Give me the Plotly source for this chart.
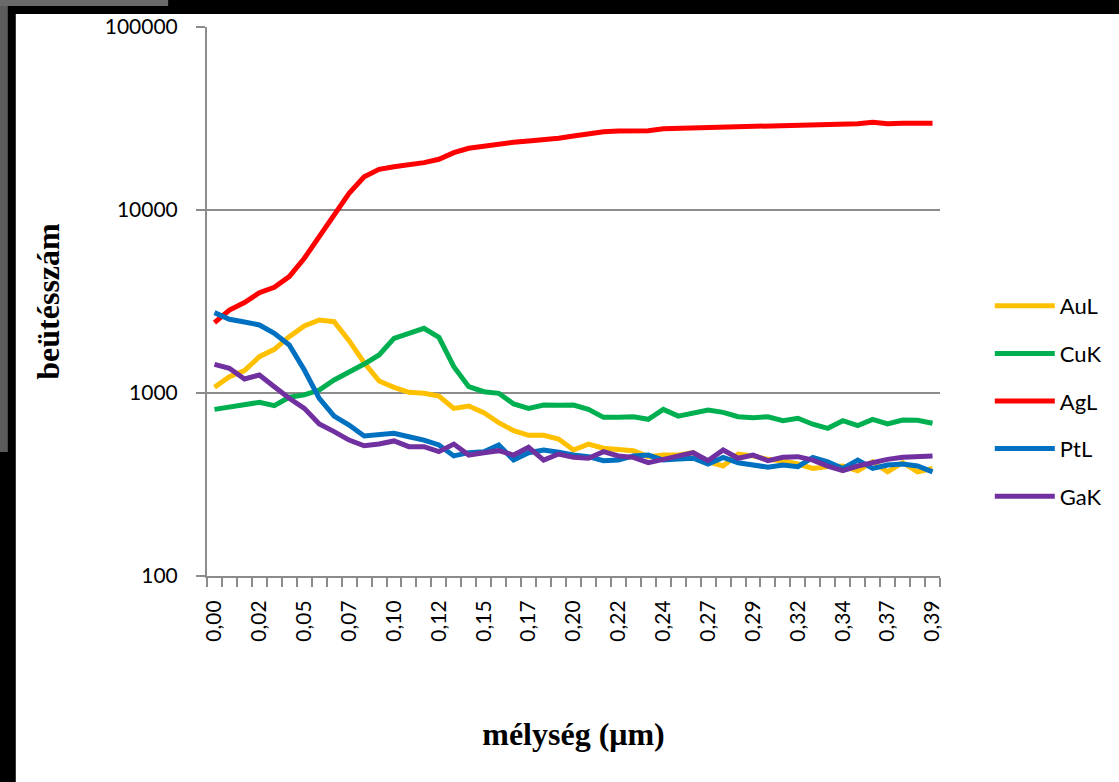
import plotly.graph_objects as go

# ---------------- data ----------------
depth = [0.0000, 0.0081, 0.0163, 0.0244, 0.0325, 0.0406, 0.0488, 0.0569, 0.0650, 0.0731,
         0.0813, 0.0894, 0.0975, 0.1056, 0.1138, 0.1219, 0.1300, 0.1381, 0.1463, 0.1544,
         0.1625, 0.1706, 0.1788, 0.1869, 0.1950, 0.2031, 0.2113, 0.2194, 0.2275, 0.2356,
         0.2438, 0.2519, 0.2600, 0.2681, 0.2763, 0.2844, 0.2925, 0.3006, 0.3088, 0.3169,
         0.3250, 0.3331, 0.3413, 0.3494, 0.3575, 0.3656, 0.3738, 0.3819, 0.3900]

tick_labels = ["0,00", "0,02", "0,05", "0,07", "0,10", "0,12", "0,15", "0,17", "0,20",
               "0,22", "0,24", "0,27", "0,29", "0,32", "0,34", "0,37", "0,39"]

y_tick_vals = [100, 1000, 10000, 100000]
y_tick_text = ["100", "1000", "10000", "100000"]

AuL = [1074, 1228, 1324, 1580, 1733, 2032, 2324, 2506, 2454, 1932, 1465, 1163, 1074, 1009,
       996, 963, 824, 849, 780, 688, 622, 587, 587, 560, 488, 526, 499, 492, 484, 449, 458,
       458, 472, 421, 399, 464, 453, 434, 425, 409, 387, 396, 399, 376, 421, 371, 416, 371, 387]

CuK = [814, 842, 860, 889, 853, 948, 976, 1038, 1178, 1291, 1440, 1613, 1990, 2120, 2258,
       2015, 1393, 1082, 1016, 996, 871, 824, 860, 858, 860, 814, 736, 736, 742, 718, 814,
       748, 780, 807, 784, 742, 733, 742, 706, 728, 675, 641, 706, 663, 718, 677, 712, 709, 683]

AgL = [2423, 2842, 3118, 3535, 3782, 4325, 5448, 7150, 9276, 12330, 15200, 16680, 17250,
       17700, 18150, 18930, 20580, 21750, 22380, 23140, 23440, 23830, 24140, 24660, 25370,
       26240, 26790, 27030, 27130, 27130, 27800, 27940, 28170, 28330, 28060, 28530, 28330,
       28760, 29030, 29140, 29220, 29380, 29380, 29630, 30140, 29630, 29800, 29800, 29800]

PtL = [2748, 2529, 2443, 2353, 2120, 1829, 1335, 935, 748, 668, 582, 597, 603, 577, 553,
       520, 453, 472, 478, 520, 430, 472, 488, 475, 458, 449, 427, 430, 453, 458, 430, 436,
       440, 409, 445, 416, 404, 393, 404, 396, 445, 421, 387, 430, 387, 404, 409, 399, 371]

GaK = [1435, 1365, 1193, 1254, 1082, 935, 824, 677, 615, 553, 515, 526, 547, 509, 509, 478,
       526, 458, 472, 484, 458, 505, 430, 464, 445, 440, 478, 453, 445, 416, 434, 449, 472,
       427, 488, 440, 458, 427, 445, 449, 430, 399, 376, 399, 416, 434, 445, 449, 453]

series = [("AuL", AuL, "#FFC000"), ("CuK", CuK, "#00B050"), ("AgL", AgL, "#FF0000"),
          ("PtL", PtL, "#0070C0"), ("GaK", GaK, "#7030A0")]

# ---------------- layout geometry ----------------
W, H = 1119, 782
L, R, T, B = 207, 176, 27, 206
pw, ph = W - L - R, H - T - B


def px(x):
    return (x - L) / pw


def py(y):
    return (H - B - y) / ph


step = depth[-1] / (len(depth) - 1)
GRID = "#8c8c8c"
TITLE_FONT = dict(family="Liberation Serif, Times New Roman, serif", size=32,
                  color="black", weight="bold")

fig = go.Figure()
for i, (name, vals, col) in enumerate(series):
    fig.add_trace(go.Scatter(x=depth, y=vals, name=name, mode="lines",
                             line=dict(color=col, width=5), legendgroup=f"g{i}"))

fig.update_layout(
    width=W, height=H,
    margin=dict(l=L, r=R, t=T, b=B),
    paper_bgcolor="white", plot_bgcolor="white",
    font=dict(family="Lato, Open Sans, sans-serif", size=21, color="black"),
    showlegend=True,
    legend=dict(x=px(993), y=py(401), xanchor="left", yanchor="middle",
                font=dict(family="Lato, Open Sans, sans-serif", size=22),
                tracegroupgap=16, itemwidth=60, bgcolor="rgba(0,0,0,0)"),
    xaxis=dict(
        range=[-step / 2, depth[-1] + step / 2],
        tickmode="array", tickvals=depth[::3], ticktext=tick_labels,
        tickangle=-90, ticks="", showgrid=False, zeroline=False,
        showline=True, linecolor=GRID, linewidth=2,
        ticklabelstandoff=14,
        minor=dict(ticks="outside", ticklen=9, tickwidth=2, tickcolor=GRID,
                   tick0=-step / 2, dtick=step, showgrid=False),
        title=dict(text="mélység (μm)", standoff=82, font=TITLE_FONT),
    ),
    yaxis=dict(
        type="log", range=[2, 5],
        tickmode="array", tickvals=y_tick_vals, ticktext=y_tick_text,
        ticks="outside", ticklen=9, tickwidth=2, tickcolor=GRID,
        showgrid=True, gridcolor=GRID, gridwidth=2, zeroline=False,
        showline=True, linecolor=GRID, linewidth=2,
        ticklabelstandoff=14,
        title=dict(text="beütésszám", standoff=36, font=TITLE_FONT),
    ),
    shapes=[
        dict(type="rect", xref="paper", yref="paper", x0=px(0), x1=px(W + 5), y0=py(14), y1=py(-5),
             fillcolor="black", line=dict(width=0), layer="above"),
        dict(type="rect", xref="paper", yref="paper", x0=px(-5), x1=px(15), y0=py(H + 5), y1=py(-5),
             fillcolor="black", line=dict(width=0), layer="above"),
        dict(type="rect", xref="paper", yref="paper", x0=px(-5), x1=px(7), y0=py(452), y1=py(-5),
             fillcolor="#5c5c5c", line=dict(width=0), layer="above"),
        dict(type="rect", xref="paper", yref="paper", x0=px(-5), x1=px(168), y0=py(6), y1=py(-5),
             fillcolor="#6a6a6a", line=dict(width=0), layer="above"),
    ],
)

fig.write_html("out.html", config={"displayModeBar": False},
               post_script="document.body.style.margin='0';")
